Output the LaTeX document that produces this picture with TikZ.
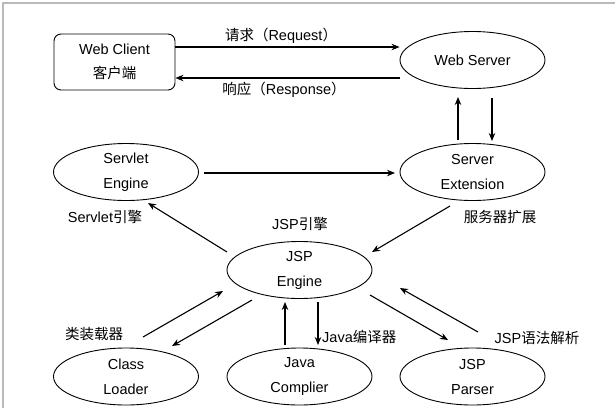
\documentclass[tikz,border=0pt]{standalone}
\usepackage{fontspec}
\setmainfont{Liberation Sans}
\newfontfamily\cjk{Noto Sans CJK SC}
\usetikzlibrary{arrows.meta,shapes.geometric}
\begin{document}
\begin{tikzpicture}[x=1pt,y=-1pt,
  every node/.style={font=\fontsize{14.5}{16}\selectfont},
  ell/.style={draw, ellipse, line width=0.9pt, minimum width=145pt, minimum height=57pt, inner sep=0pt, align=center},
  conn/.style={line width=1.1pt, -{Stealth[length=8pt,width=6.5pt]}},
  lbl/.style={inner sep=0pt}]
\useasboundingbox (0,0) rectangle (615,408);
\draw[gray!55, line width=2pt] (3,408) -- (3,3) -- (615,3);
% nodes
\node[draw, rounded corners=7pt, line width=0.9pt, minimum width=121pt, minimum height=56pt, align=center] (wc) at (114.5,62) {Web Client\\[8.5pt]{\cjk 客户端}};
\node[ell] (ws) at (472.5,60) {Web Server};
\node[ell] (se) at (472.5,172) {Server\\[9pt]Extension};
\node[ell] (sv) at (126,172) {Servlet\\[9pt]Engine};
\node[ell] (jsp) at (299.5,270) {JSP\\[9pt]Engine};
\node[ell] (cl) at (126,376.5) {Class\\[9pt]Loader};
\node[ell] (jc) at (299.5,376.5) {Java\\[9pt]Complier};
\node[ell] (jp) at (472.5,376.5) {JSP\\[9pt]Parser};
% connectors
\draw[conn] (wc.east |- 0,47) -- (ws.west |- 0,47);
\draw[conn] (ws.west |- 0,78) -- (wc.east |- 0,78);
\node[lbl] (lreq) at (281,36) {{\cjk 请求}{\cjk （}Request{\cjk ）}};
\node[lbl] (lres) at (284,90) {{\cjk 响应}{\cjk （}Response{\cjk ）}};
\coordinate (a1) at (458,140); \coordinate (a2) at (458,97);
\draw[conn] (a1) -- (a2);
\coordinate (b1) at (492,98); \coordinate (b2) at (492,141);
\draw[conn] (b1) -- (b2);
\draw[conn] (204,173) -- (395,173);
\draw[conn] (227,252) -- (148,203);
\draw[conn] (450,206) -- (372,252);
\draw[conn] (143,337) -- (223,291);
\draw[conn] (252,300) -- (172,346);
\draw[conn] (285,345) -- (285,302);
\draw[conn] (318,302) -- (318,345);
\draw[conn] (370,295) -- (448,340);
\draw[conn] (478,332) -- (400,288);
% labels
\node[lbl] (l1) at (105,217) {Servlet{\cjk 引擎}};
\node[lbl] (l2) at (300,224) {JSP{\cjk 引擎}};
\node[lbl] (l3) at (500,217) {{\cjk 服务器扩展}};
\node[lbl] (l4) at (94,334) {{\cjk 类装载器}};
\node[lbl, anchor=west] (l5) at (322,337) {Java{\cjk 编译器}};
\node[lbl] (l6) at (537,338) {JSP{\cjk 语法解析}};
\end{tikzpicture}
\end{document}
